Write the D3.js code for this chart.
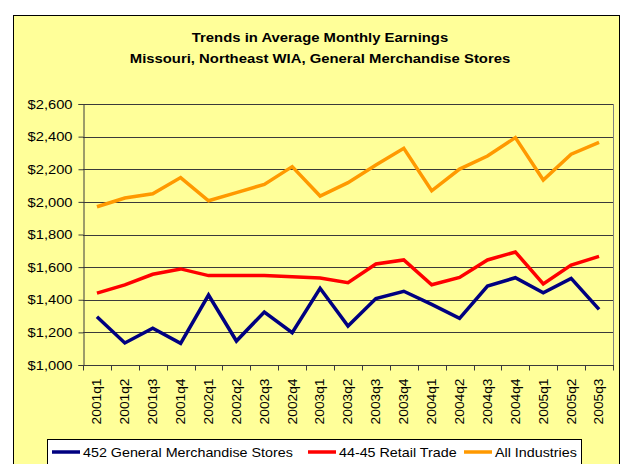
<!DOCTYPE html>
<html>
<head>
<meta charset="utf-8">
<script src="https://cdn.jsdelivr.net/npm/d3@7"></script>
<style>
  body { margin: 0; background: #fff; }
  svg text { font-family: Arial, "Liberation Sans", sans-serif; fill: #000; }
</style>
</head>
<body>
<svg id="chart" width="623" height="464"></svg>
<script>
"use strict";

var quarters = ["2001q1", "2001q2", "2001q3", "2001q4", "2002q1", "2002q2", "2002q3", "2002q4",
    "2003q1", "2003q2", "2003q3", "2003q4", "2004q1", "2004q2", "2004q3", "2004q4",
    "2005q1", "2005q2", "2005q3"];

var generalMerch = [1296, 1135, 1225, 1133, 1429, 1147, 1325, 1198, 1470, 1239, 1407, 1452, 1372, 1286, 1484, 1535, 1443, 1531, 1341];
var retailTrade  = [1441, 1491, 1556, 1589, 1548, 1548, 1548, 1541, 1533, 1505, 1619, 1644, 1492, 1537, 1644, 1693, 1497, 1613, 1666];
var allIndustries = [1970, 2024, 2050, 2149, 2007, 2057, 2107, 2216, 2036, 2118, 2226, 2328, 2068, 2201, 2281, 2394, 2134, 2292, 2365];

var seriesNames = ["452 General Merchandise Stores", "44-45 Retail Trade", "All Industries"];
var seriesColors = ["#000080", "#ff0000", "#ff9900"];
var yTicks = [1000, 1200, 1400, 1600, 1800, 2000, 2200, 2400, 2600];

var titleLines = ["Trends in Average Monthly Earnings", "Missouri, Northeast WIA, General Merchandise Stores"];

var svg = d3.select("#chart");

// étirer le texte à une largeur donnée (l'image est un peu plus large que ses polices)
function fitWidth(sel, largeur) {
    sel.each(function(d) {
        var w = typeof largeur === "function" ? largeur(d) : largeur;
        d3.select(this).attr("textLength", w).attr("lengthAdjust", "spacingAndGlyphs");
    });
}
function stretch(sel, k) {
    sel.each(function() {
        var w = this.getComputedTextLength();
        d3.select(this).attr("textLength", w * k).attr("lengthAdjust", "spacingAndGlyphs");
    });
}

// outer chart area
svg.append("rect")
    .attr("x", 13.5).attr("y", 15.5).attr("width", 606).attr("height", 460)
    .attr("fill", "#ffff99").attr("stroke", "#000").attr("stroke-width", 1);

var plot = { left: 83, right: 613, top: 104, bottom: 365 };

var x = d3.scaleBand().domain(quarters).range([plot.left, plot.right]).padding(0);
var y = d3.scaleLinear().domain([1000, 2600]).range([plot.bottom, plot.top]);

// title
svg.append("g").selectAll("text").data(titleLines).enter().append("text")
    .attr("x", 320)
    .attr("y", function(d, i) { return 41.5 + i * 21; })
    .attr("text-anchor", "middle")
    .style("font-size", "13.5px")
    .style("font-weight", "bold")
    .text(function(d) { return d; })
    .call(stretch, 1.1);

// horizontal grid lines
svg.append("g").selectAll("line").data(yTicks.slice(1)).enter().append("line")
    .attr("x1", plot.left).attr("x2", plot.right)
    .attr("y1", function(d) { return Math.round(y(d)) + 0.5; })
    .attr("y2", function(d) { return Math.round(y(d)) + 0.5; })
    .attr("stroke", "#3a3a3a").attr("stroke-width", 1);

// plot border (right side grey)
svg.append("line")
    .attr("x1", plot.right + 0.5).attr("x2", plot.right + 0.5)
    .attr("y1", plot.top).attr("y2", plot.bottom)
    .attr("stroke", "#808080");

// y axis
var axeY = svg.append("g")
    .attr("transform", "translate(" + (plot.left + 0.5) + ",0)")
    .call(d3.axisLeft(y).tickValues(yTicks).tickFormat(d3.format("$,.0f")).tickSize(5).tickPadding(6));
axeY.select(".domain").attr("stroke", "#3a3a3a");
axeY.selectAll(".tick line").attr("stroke", "#3a3a3a");
axeY.selectAll("text").style("font-size", "13px").call(stretch, 1.13);

// x axis : ticks between categories, labels at the middle
var axeX = svg.append("g").attr("transform", "translate(0," + (plot.bottom + 0.5) + ")");
axeX.append("line")
    .attr("x1", plot.left).attr("x2", plot.right + 1)
    .attr("stroke", "#3a3a3a");
var bornes = quarters.map(function(q) { return x(q); }).concat([plot.right]);
axeX.selectAll("line.tick").data(bornes).enter().append("line")
    .attr("class", "tick")
    .attr("x1", function(d) { return Math.round(d) + 0.5; })
    .attr("x2", function(d) { return Math.round(d) + 0.5; })
    .attr("y1", 0).attr("y2", 5)
    .attr("stroke", "#3a3a3a");
axeX.selectAll("text").data(quarters).enter().append("text")
    .attr("transform", function(d) {
        return "translate(" + (x(d) + x.bandwidth() / 2) + ",13) rotate(-90)";
    })
    .attr("text-anchor", "end")
    .attr("dy", "0.35em")
    .style("font-size", "12.5px")
    .text(function(d) { return d; })
    .call(stretch, 1.1);

// lines
var donnees = [generalMerch, retailTrade, allIndustries];
var ligne = d3.line()
    .x(function(d, i) { return x(quarters[i]) + x.bandwidth() / 2; })
    .y(function(d) { return y(d); });

svg.append("g").selectAll("path").data(donnees).enter().append("path")
    .attr("d", ligne)
    .attr("fill", "none")
    .attr("stroke", function(d, i) { return seriesColors[i]; })
    .attr("stroke-width", 3.5)
    .attr("stroke-linejoin", "miter");

// legend
var legende = svg.append("g");
legende.append("rect")
    .attr("x", 47.5).attr("y", 439.5).attr("width", 534).attr("height", 30)
    .attr("fill", "#fff").attr("stroke", "#000");

var legendX = [52, 308, 464];
var items = legende.selectAll("g.item").data(seriesNames).enter().append("g")
    .attr("class", "item")
    .attr("transform", function(d, i) { return "translate(" + legendX[i] + ",452)"; });
items.append("line")
    .attr("x1", 0).attr("x2", 28)
    .attr("stroke", function(d, i) { return seriesColors[i]; })
    .attr("stroke-width", 3.5);
items.append("text")
    .attr("x", 31).attr("y", 5)
    .style("font-size", "13px")
    .text(function(d) { return d; })
    .call(stretch, 1.1);
</script>
</body>
</html>
